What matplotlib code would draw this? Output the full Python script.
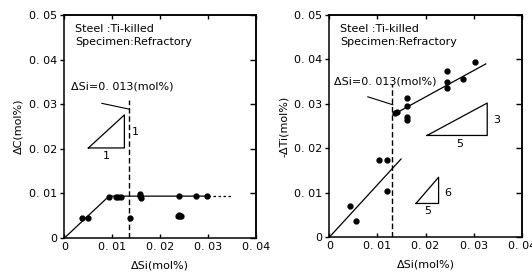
import numpy as np
import matplotlib.pyplot as plt

# -------------------------
# Data
# -------------------------

# left panel: dC vs dSi
c_si = [0.0037, 0.0050, 0.0093, 0.0108, 0.0112, 0.0117, 0.0136,
        0.0157, 0.0158, 0.0159, 0.0238, 0.0274, 0.0298,
        0.0236, 0.0240, 0.0243, 0.0239]
c_dc = [0.0045, 0.0045, 0.0093, 0.0092, 0.0092, 0.0092, 0.0045,
        0.0099, 0.0095, 0.0090, 0.0095, 0.0095, 0.0095,
        0.0049, 0.0049, 0.0049, 0.0052]
c_fit_x = [0.0, 0.0093, 0.0300]
c_fit_y = [0.0, 0.0094, 0.0094]
c_ext_x = [0.0300, 0.0347]
c_ext_y = [0.0094, 0.0094]

# right panel: -dTi vs dSi
ti_si = [0.0042, 0.0055, 0.0104, 0.0120, 0.0119,
         0.0136, 0.0140, 0.0162, 0.0162, 0.0162, 0.0162,
         0.0244, 0.0244, 0.0244, 0.0277, 0.0302]
ti_dti = [0.0071, 0.0037, 0.0174, 0.0174, 0.0105,
          0.0279, 0.0281, 0.0314, 0.0295, 0.0270, 0.0263,
          0.0373, 0.0350, 0.0336, 0.0357, 0.0395]
ti_low_x = [0.0, 0.0149]
ti_low_y = [0.0, 0.0176]
ti_up_x = [0.0133, 0.0325]
ti_up_y = [0.0276, 0.0390]

si_crit = 0.0135

xticks = [0, 0.01, 0.02, 0.03, 0.04]
xlabels = ["0", "0. 01", "0. 02", "0. 03", "0. 04"]
yticks = [0, 0.01, 0.02, 0.03, 0.04, 0.05]
ylabels = ["0", "0. 01", "0. 02", "0. 03", "0. 04", "0. 05"]

fs = 8

# -------------------------
# Figure
# -------------------------

fig = plt.figure(figsize=(5.32, 2.73), dpi=100)

ax1 = fig.add_axes([0.121, 0.128, 0.361, 0.817])
ax2 = fig.add_axes([0.619, 0.131, 0.362, 0.814])


def style(ax, ylab):
    ax.set_xlim(0, 0.04)
    ax.set_ylim(0, 0.05)
    ax.set_xticks(xticks)
    ax.set_xticklabels(xlabels, fontsize=fs)
    ax.set_yticks(yticks)
    ax.set_yticklabels(ylabels, fontsize=fs)
    ax.tick_params(axis="y", direction="out", length=3, width=1, pad=2)
    ax.tick_params(axis="x", direction="in", length=3, width=1, pad=3)
    sec = ax.secondary_yaxis("right")
    sec.set_yticks(yticks)
    sec.tick_params(direction="in", length=4, width=1, labelright=False)
    top = ax.secondary_xaxis("top")
    top.set_xticks(xticks)
    top.tick_params(direction="in", length=3, width=1, labeltop=False)
    for s in list(ax.spines.values()) + [sec.spines["right"], top.spines["top"]]:
        s.set_linewidth(1.1)
    ax.set_xlabel("ΔSi(mol%)", fontsize=fs, labelpad=6)
    ax.set_ylabel(ylab, fontsize=fs, labelpad=4)
    ax.text(0.0022, 0.0469, "Steel :Ti-killed", fontsize=fs, va="center")
    ax.text(0.0022, 0.0439, "Specimen:Refractory", fontsize=fs, va="center")


# -------------------------
# Left panel
# -------------------------

style(ax1, "ΔC(mol%)")
ax1.plot(c_si, c_dc, "o", color="black", ms=3.5)
ax1.plot(c_fit_x, c_fit_y, color="black", lw=0.9)
ax1.plot(c_ext_x, c_ext_y, color="black", lw=0.9, ls=(0, (2, 2)))
ax1.plot([si_crit, si_crit], [0, 0.031], color="black", lw=1, ls=(0, (4, 2)))
ax1.text(0.0014, 0.0339, "ΔSi=0. 013(mol%)", fontsize=fs, va="center")
ax1.plot([0.0078, si_crit], [0.0302, 0.0289], color="black", lw=0.8)

# slope triangle 1:1
ax1.plot([0.0050, 0.0125, 0.0125, 0.0050], [0.0202, 0.0202, 0.0276, 0.0202],
         color="black", lw=0.9)
ax1.text(0.0088, 0.0184, "1", fontsize=fs, ha="center", va="center")
ax1.text(0.0147, 0.0238, "1", fontsize=fs, ha="center", va="center")

# -------------------------
# Right panel
# -------------------------

style(ax2, "-ΔTi(mol%)")
ax2.plot(ti_si, ti_dti, "o", color="black", ms=3.5)
ax2.plot(ti_low_x, ti_low_y, color="black", lw=0.9)
ax2.plot(ti_up_x, ti_up_y, color="black", lw=0.9)
ax2.plot([0.0131, 0.0131], [0, 0.0345], color="black", lw=1, ls=(0, (4, 2)))
ax2.text(0.0009, 0.0350, "ΔSi=0. 013(mol%)", fontsize=fs, va="center")
ax2.plot([0.0080, 0.0132], [0.0316, 0.0298], color="black", lw=0.8)

# slope triangle 3:5
ax2.plot([0.0203, 0.0328, 0.0328, 0.0203], [0.0229, 0.0229, 0.0302, 0.0229],
         color="black", lw=0.9)
ax2.text(0.0348, 0.0264, "3", fontsize=fs, ha="center", va="center")
ax2.text(0.0270, 0.0210, "5", fontsize=fs, ha="center", va="center")

# slope triangle 6:5
ax2.plot([0.0180, 0.0227, 0.0227, 0.0180], [0.0076, 0.0076, 0.0135, 0.0076],
         color="black", lw=0.9)
ax2.text(0.0246, 0.0100, "6", fontsize=fs, ha="center", va="center")
ax2.text(0.0204, 0.0058, "5", fontsize=fs, ha="center", va="center")

fig.savefig("out.png", dpi=100)
